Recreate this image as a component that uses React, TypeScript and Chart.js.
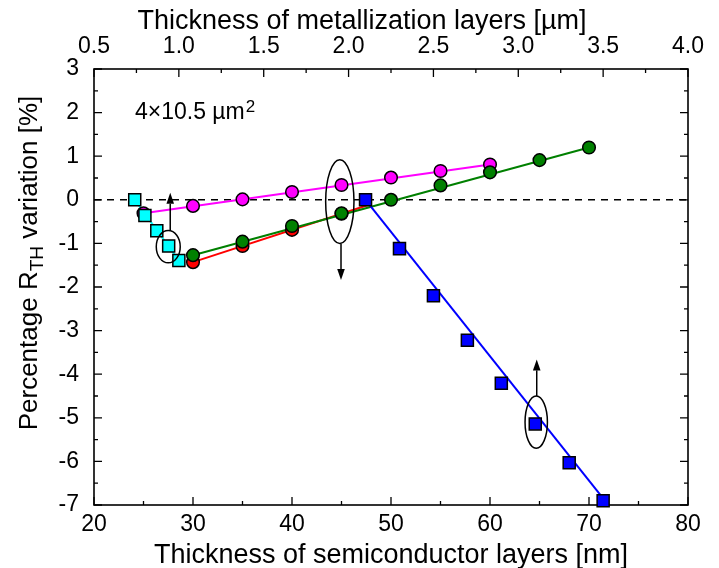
import React, { useEffect, useRef } from 'react';
import { Chart, registerables } from 'chart.js';
Chart.register(...registerables);

const FONT = "'Liberation Sans', Arial, Helvetica, sans-serif";

// ---- axis ticks ----
const bottomTicks = [20, 30, 40, 50, 60, 70, 80]; // nm
const topTicks = [0.5, 1.0, 1.5, 2.0, 2.5, 3.0, 3.5, 4.0]; // µm
const yTicks = [-7, -6, -5, -4, -3, -2, -1, 0, 1, 2, 3]; // %

// ---- series on bottom axis (semiconductor thickness, nm) ----
const magentaX = [25, 30, 35, 40, 45, 50, 55, 60];
const magentaY = [-0.31, -0.14, 0.01, 0.18, 0.34, 0.51, 0.66, 0.81];
const redX = [30, 35, 40, 45];
const redY = [-1.43, -1.06, -0.69, -0.32];
const greenX = [30, 35, 40, 45, 50, 55, 60, 65, 70];
const greenY = [-1.27, -0.96, -0.6, -0.31, 0, 0.33, 0.63, 0.91, 1.2];

// ---- series on top axis (metallization thickness, µm) ----
const cyanX = [0.74, 0.8, 0.87, 0.94, 1.0];
const cyanY = [0, -0.36, -0.71, -1.06, -1.39];
const blueX = [2.1, 2.3, 2.5, 2.7, 2.9, 3.1, 3.3, 3.5];
const blueY = [0, -1.12, -2.2, -3.22, -4.21, -5.14, -6.03, -6.9];

// ---- straight lines as drawn in the figure (end points) ----
const magentaLineX = [25, 60];
const magentaLineY = [-0.31, 0.81];
const redLineX = [30, 47.7];
const redLineY = [-1.43, -0.12];
const greenLineX = [30, 70];
const greenLineY = [-1.27, 1.2];
const cyanLineX = [0.74, 1.0];
const cyanLineY = [0, -1.39];
const blueLineX = [2.1, 3.5];
const blueLineY = [0, -6.85];

// ---- annotations (bottom-axis units) ----
const ellipseX = [27.5, 44.83, 64.67];
const ellipseY = [-1.075, -0.04, -5.1];
const ellipseRX = [1.21, 1.43, 1.13];
const ellipseRY = [0.37, 0.96, 0.6];
const arrowX = [27.7, 44.95, 64.72];
const arrowFrom = [-0.705, -1.0, -4.5];
const arrowTo = [0.16, -1.84, -3.66];
const sizeLabel = { x: 24.14, y: 1.846, text: '4×10.5 µm', sup: '2' };

const pts = (xs: number[], ys: number[]) => xs.map((x, i) => ({ x, y: ys[i] }));

const minorOf = (ticks: number[]) => ticks.slice(1).map((t, i) => (t + ticks[i]) / 2);

const framePlugin = {
  id: 'frame',
  beforeDatasetsDraw(chart: any) {
    const { ctx, chartArea: a, scales } = chart;
    ctx.save();
    ctx.strokeStyle = '#000';
    // zero dashed line
    const y0 = scales.y.getPixelForValue(0);
    ctx.lineWidth = 1.5;
    ctx.setLineDash([7, 6]);
    ctx.beginPath();
    ctx.moveTo(a.left, y0);
    ctx.lineTo(a.right, y0);
    ctx.stroke();
    ctx.setLineDash([]);
    // frame
    ctx.lineWidth = 1.6;
    ctx.strokeRect(a.left, a.top, a.right - a.left, a.bottom - a.top);
    ctx.lineWidth = 1.3;
    const MAJ = 8, MIN = 4;
    ctx.beginPath();
    const hx = (scale: any, vals: number[], len: number, yEdge: number, dir: number) => {
      vals.forEach((v) => {
        const p = scale.getPixelForValue(v);
        ctx.moveTo(p, yEdge);
        ctx.lineTo(p, yEdge + dir * len);
      });
    };
    hx(scales.x, bottomTicks, MAJ, a.bottom, -1);
    hx(scales.x, minorOf(bottomTicks), MIN, a.bottom, -1);
    hx(scales.x2, topTicks, MAJ, a.top, 1);
    hx(scales.x2, minorOf(topTicks), MIN, a.top, 1);
    const vy = (vals: number[], len: number) => {
      vals.forEach((v) => {
        const p = scales.y.getPixelForValue(v);
        ctx.moveTo(a.left, p);
        ctx.lineTo(a.left + len, p);
        ctx.moveTo(a.right, p);
        ctx.lineTo(a.right - len, p);
      });
    };
    vy(yTicks, MAJ);
    vy(minorOf(yTicks), MIN);
    ctx.stroke();
    ctx.restore();
  },
};

const annotationPlugin = {
  id: 'annot',
  afterDatasetsDraw(chart: any) {
    const { ctx, scales } = chart;
    const sx = scales.x, sy = scales.y;
    ctx.save();
    ctx.strokeStyle = '#000';
    ctx.fillStyle = '#000';
    ctx.lineWidth = 1.5;
    ellipseX.forEach((ex, i) => {
      const cx = sx.getPixelForValue(ex);
      const cy = sy.getPixelForValue(ellipseY[i]);
      const rx = Math.abs(sx.getPixelForValue(ex + ellipseRX[i]) - cx);
      const ry = Math.abs(sy.getPixelForValue(ellipseY[i] + ellipseRY[i]) - cy);
      ctx.beginPath();
      ctx.ellipse(cx, cy, rx, ry, 0, 0, Math.PI * 2);
      ctx.stroke();
    });
    arrowX.forEach((ax, i) => {
      const x = sx.getPixelForValue(ax);
      const y1 = sy.getPixelForValue(arrowFrom[i]);
      const y2 = sy.getPixelForValue(arrowTo[i]);
      const dir = y2 < y1 ? -1 : 1;
      const head = 11;
      ctx.beginPath();
      ctx.moveTo(x, y1);
      ctx.lineTo(x, y2 - dir * head);
      ctx.stroke();
      ctx.beginPath();
      ctx.moveTo(x, y2);
      ctx.lineTo(x - 3.8, y2 - dir * head);
      ctx.lineTo(x + 3.8, y2 - dir * head);
      ctx.closePath();
      ctx.fill();
    });
    // size label
    const lx = sx.getPixelForValue(sizeLabel.x);
    const ly = sy.getPixelForValue(sizeLabel.y);
    ctx.textAlign = 'left';
    ctx.textBaseline = 'alphabetic';
    ctx.font = `23px ${FONT}`;
    ctx.fillText(sizeLabel.text, lx, ly);
    const w = ctx.measureText(sizeLabel.text).width;
    ctx.font = `17px ${FONT}`;
    ctx.fillText(sizeLabel.sup, lx + w + 1, ly - 7);
    ctx.restore();
  },
  afterDraw(chart: any) {
    const { ctx, chartArea: a } = chart;
    ctx.save();
    ctx.fillStyle = '#000';
    ctx.textBaseline = 'alphabetic';
    // bottom title
    ctx.font = `27px ${FONT}`;
    ctx.textAlign = 'center';
    ctx.fillText('Thickness of semiconductor layers [nm]', (a.left + a.right) / 2, 563);
    // top title
    ctx.fillText('Thickness of metallization layers [µm]', 362, 29);
    // y title with subscript
    ctx.translate(37, 263);
    ctx.rotate(-Math.PI / 2);
    ctx.textAlign = 'left';
    const p1 = 'Percentage R', sub = 'TH', p3 = ' variation [%]';
    ctx.font = `26px ${FONT}`;
    const w1 = ctx.measureText(p1).width;
    const w3 = ctx.measureText(p3).width;
    ctx.font = `19px ${FONT}`;
    const w2 = ctx.measureText(sub).width;
    const start = -(w1 + w2 + w3) / 2;
    ctx.font = `26px ${FONT}`;
    ctx.fillText(p1, start, 0);
    ctx.fillText(p3, start + w1 + w2, 0);
    ctx.font = `19px ${FONT}`;
    ctx.fillText(sub, start + w1, 6);
    ctx.restore();
  },
};

export default function App() {
  const ref = useRef<HTMLCanvasElement>(null);
  useEffect(() => {
    document.body.style.margin = '0';
    const circle = (data: any, color: string, axis: string, order: number) => ({
      data, xAxisID: axis, yAxisID: 'y', order, showLine: false,
      pointStyle: 'circle', pointRadius: 6.3, pointBackgroundColor: color,
      pointBorderColor: '#000', pointBorderWidth: 1.5, clip: false,
    });
    const square = (data: any, color: string, axis: string, order: number) => ({
      data, xAxisID: axis, yAxisID: 'y', order, showLine: false,
      pointStyle: 'rect', pointRadius: 8.5, pointBackgroundColor: color,
      pointBorderColor: '#000', pointBorderWidth: 1.5, clip: false,
    });
    const line = (data: any, color: string, axis: string, order: number) => ({
      data, xAxisID: axis, yAxisID: 'y', order, showLine: true,
      borderColor: color, borderWidth: 2, pointRadius: 0, fill: false,
    });
    const tickFont = { family: FONT, size: 23 };
    const chart = new Chart(ref.current!, {
      type: 'scatter',
      data: {
        datasets: [
          square(pts(cyanX, cyanY), '#00FFFF', 'x2', 0),
          square(pts(blueX, blueY), '#0000FF', 'x2', 1),
          circle(pts(greenX, greenY), '#008000', 'x', 2),
          circle(pts(magentaX, magentaY), '#FF00FF', 'x', 3),
          circle(pts(redX, redY), '#FF0000', 'x', 4),
          line(pts(cyanLineX, cyanLineY), '#00FFFF', 'x2', 5),
          line(pts(blueLineX, blueLineY), '#0000FF', 'x2', 6),
          line(pts(greenLineX, greenLineY), '#008000', 'x', 7),
          line(pts(magentaLineX, magentaLineY), '#FF00FF', 'x', 8),
          line(pts(redLineX, redLineY), '#FF0000', 'x', 9),
        ] as any,
      },
      options: {
        animation: false,
        responsive: true,
        maintainAspectRatio: false,
        events: [],
        layout: { padding: { left: 0, right: 31, top: 0, bottom: 0 } },
        plugins: { legend: { display: false }, tooltip: { enabled: false } },
        scales: {
          x: {
            type: 'linear', position: 'bottom', min: 20, max: 80,
            grid: { display: false, drawTicks: false }, border: { display: false },
            ticks: { font: tickFont, color: '#000', padding: 6, autoSkip: false, maxRotation: 0 },
            afterBuildTicks: (s: any) => { s.ticks = bottomTicks.map((v) => ({ value: v })); },
            afterFit: (s: any) => { s.height = 63; },
          },
          x2: {
            type: 'linear', position: 'top', min: 0.5, max: 4,
            grid: { display: false, drawTicks: false }, border: { display: false },
            ticks: { font: tickFont, color: '#000', padding: 9, autoSkip: false, maxRotation: 0,
              callback: (v: any) => Number(v).toFixed(1) },
            afterBuildTicks: (s: any) => { s.ticks = topTicks.map((v) => ({ value: v })); },
            afterFit: (s: any) => { s.height = 69; },
          },
          y: {
            type: 'linear', position: 'left', min: -7, max: 3,
            grid: { display: false, drawTicks: false }, border: { display: false },
            ticks: { font: tickFont, color: '#000', padding: 15, autoSkip: false,
              callback: (v: any) => String(v) },
            afterBuildTicks: (s: any) => { s.ticks = yTicks.map((v) => ({ value: v })); },
            afterFit: (s: any) => { s.width = 94; },
          },
        },
      } as any,
      plugins: [framePlugin, annotationPlugin],
    });
    return () => chart.destroy();
  }, []);
  return (
    <div style={{ width: 719, height: 568, position: 'relative' }}>
      <canvas ref={ref} />
    </div>
  );
}
